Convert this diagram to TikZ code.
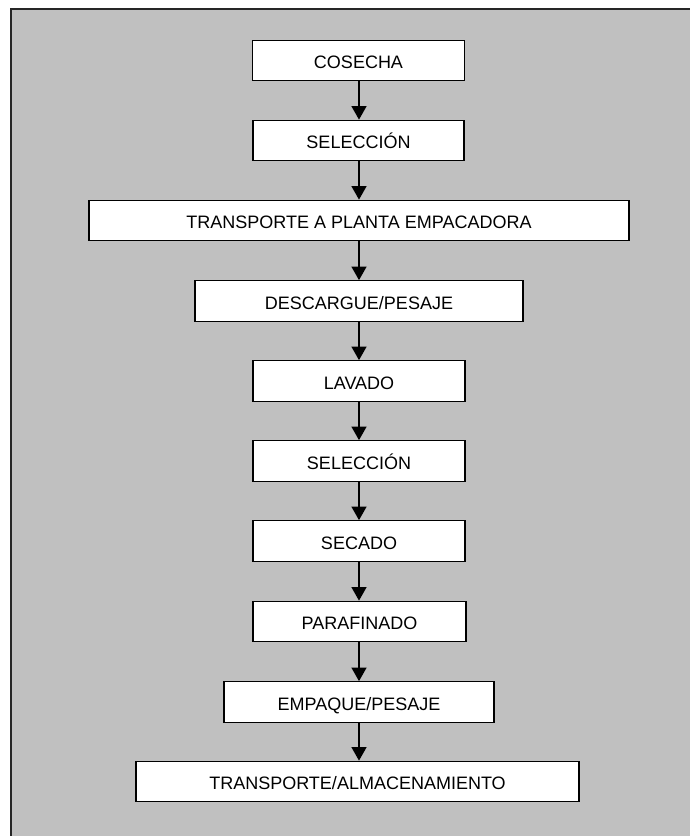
\documentclass[tikz,border=0pt]{standalone}
\usepackage{fontspec}
\setmainfont{Liberation Sans}
\usetikzlibrary{arrows.meta}
\definecolor{bggray}{RGB}{192,192,192}
\begin{document}
\begin{tikzpicture}[x=1pt,y=-1pt,
  stepbox/.style={draw=black, fill=white, line width=1.3pt, minimum height=40.5pt,
    inner sep=0pt, text height=16.5pt, text depth=0pt,
    font=\fontsize{18}{21}\selectfont, text=black},
  flow/.style={draw=black, line width=1.4pt, -{Triangle[width=15pt,length=13.5pt]}}]
\useasboundingbox (0,0) rectangle (690,836);
\fill[white] (0,0) rectangle (690,836);
\draw[fill=bggray, draw=black!85, line width=1.2pt] (11,9) rectangle (694,840);
\coordinate (axis) at (359,0);
\node[stepbox, minimum width=212pt] (n1) at (358.5,60.5) {COSECHA};
\node[stepbox, minimum width=211pt] (n2) at (358.5,140.5) {SELECCIÓN};
\node[stepbox, minimum width=540pt] (n3) at (359,220.5) {TRANSPORTE A PLANTA EMPACADORA};
\node[stepbox, minimum width=328pt] (n4) at (359,301) {DESCARGUE/PESAJE};
\node[stepbox, minimum width=212pt] (n5) at (359,381) {LAVADO};
\node[stepbox, minimum width=212pt] (n6) at (359,461) {SELECCIÓN};
\node[stepbox, minimum width=212pt] (n7) at (359,541) {SECADO};
\node[stepbox, minimum width=213pt] (n8) at (359.5,621.5) {PARAFINADO};
\node[stepbox, minimum width=270pt] (n9) at (359,702) {EMPAQUE/PESAJE};
\node[stepbox, minimum width=443pt] (n10) at (357.5,781.5) {TRANSPORTE/ALMACENAMIENTO};
\foreach \a/\b in {n1/n2,n2/n3,n3/n4,n4/n5,n5/n6,n6/n7,n7/n8,n8/n9,n9/n10}{
  \draw[flow] (\a.south -| axis) -- (\b.north -| axis);
}
\end{tikzpicture}
\end{document}
